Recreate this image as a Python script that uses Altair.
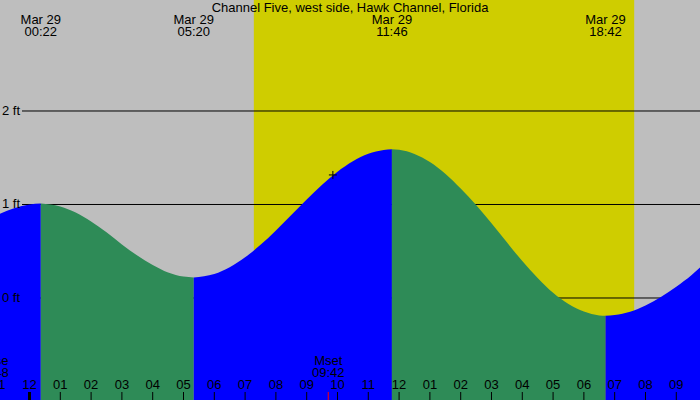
import altair as alt
import pandas as pd

# ---------------- data ----------------
title_text = "Channel Five, west side, Hawk Channel, Florida"
date_label = "Mar 29"
extreme_times = ["00:22", "05:20", "11:46", "18:42"]

# tide height (ft), hours from midnight Mar 29
tide_hours = [-0.958, -0.5, 0.0, 0.367,
              1.0, 1.5, 2.0, 2.5, 3.0, 3.5, 4.0, 4.5, 5.0, 5.333,
              6.0, 6.5, 7.0, 7.5, 8.0, 8.5, 9.0, 9.5, 10.0, 10.5, 11.0, 11.5, 11.767,
              12.0, 12.5, 13.0, 13.5, 14.0, 14.5, 15.0, 15.5, 16.0, 16.5, 17.0, 17.5, 18.0, 18.5, 18.7,
              19.0, 19.5, 20.0, 20.5, 21.0, 21.5, 21.77]
tide_ft = [0.90, 0.96, 1.00, 1.01,
           0.979, 0.913, 0.817, 0.702, 0.572, 0.455, 0.353, 0.273, 0.229, 0.22,
           0.256, 0.328, 0.435, 0.569, 0.723, 0.888, 1.054, 1.211, 1.351, 1.463, 1.542, 1.584, 1.59,
           1.585, 1.541, 1.455, 1.329, 1.171, 0.995, 0.80, 0.595, 0.395, 0.215, 0.055, -0.065, -0.145, -0.186, -0.19,
           -0.183, -0.148, -0.08, 0.01, 0.12, 0.245, 0.325]

hour_ticks = list(range(-1, 22))
hour_labels = ["11", "12", "01", "02", "03", "04", "05", "06", "07", "08", "09", "10", "11",
               "12", "01", "02", "03", "04", "05", "06", "07", "08", "09"]

ft_levels = [0, 1, 2]
ft_labels = ["0 ft", "1 ft", "2 ft"]

sunrise_time = "07:17"
sunset_time = "19:38"

moon_events = ["Mrise", "Mset"]
moon_times = ["22:48", "09:42"]
moon_day_offset = [-1, 0]

now_time = "09:51"
now_ft = 1.316

# ---------------- helpers ----------------
def hrs(s, day=0):
    h, m = s.split(":")
    return int(h) + int(m) / 60.0 + 24 * day

ext_h = [hrs(s) for s in extreme_times]

X0, X1 = -0.958, 21.77
Y0, Y1 = -1.091, 3.187

rows = []
for t, v in zip(tide_hours, tide_ft):
    seg = sum(1 for e in ext_h if e < t - 1e-3)
    rows.append({"t": t, "ft": v, "seg": seg, "base": Y0})
    if any(abs(e - t) < 1e-2 for e in ext_h):
        rows.append({"t": t, "ft": v, "seg": seg + 1, "base": Y0})
tide = pd.DataFrame(rows)
dirs = {}
for s, g in tide.groupby("seg"):
    g = g.sort_values("t")
    dirs[s] = "rise" if g["ft"].iloc[-1] > g["ft"].iloc[0] else "fall"
tide["dir"] = tide["seg"].map(dirs)
tide["seg"] = "s" + tide["seg"].astype(str)

xs = alt.Scale(domain=[X0, X1], nice=False, zero=False)
ys = alt.Scale(domain=[Y0, Y1], nice=False, zero=False)

FONT = "Liberation Sans"
FS = 13

# ---------------- layers ----------------
day = alt.Chart(pd.DataFrame({"a": [hrs(sunrise_time)], "b": [hrs(sunset_time)]})).mark_rect(
    color="#CFCD00").encode(
    x=alt.X("a:Q", scale=xs, axis=None), x2="b:Q",
    y=alt.value(0), y2=alt.value(400))

ft_df = pd.DataFrame({"ft": ft_levels, "lab": ft_labels})
lines = alt.Chart(ft_df).mark_rule(color="black", strokeWidth=1).encode(
    y=alt.Y("ft:Q", scale=ys, axis=None), x=alt.value(22), x2=alt.value(700))

water = alt.Chart(tide).mark_area(interpolate="monotone").encode(
    x=alt.X("t:Q", scale=xs, axis=None),
    y=alt.Y("ft:Q", scale=ys, axis=None),
    y2="base:Q",
    detail="seg:N",
    color=alt.Color("dir:N", scale=alt.Scale(domain=["rise", "fall"], range=["#0000FF", "#2E8B57"]), legend=None))

ft_text = alt.Chart(ft_df).mark_text(align="left", baseline="middle", font=FONT, fontSize=FS, color="black").encode(
    y=alt.Y("ft:Q", scale=ys, axis=None), x=alt.value(2), text="lab:N")

now = alt.Chart(pd.DataFrame({"t": [hrs(now_time)], "ft": [now_ft]})).mark_point(
    shape="M-1,0L1,0M0,-1L0,1", size=64, filled=False, color="black", strokeWidth=1, opacity=1).encode(
    x=alt.X("t:Q", scale=xs, axis=None), y=alt.Y("ft:Q", scale=ys, axis=None))

title = alt.Chart(pd.DataFrame({"s": [title_text]})).mark_text(
    font=FONT, fontSize=FS, baseline="middle", align="center", color="black").encode(
    x=alt.value(350), y=alt.value(8), text="s:N")

ext_df = pd.DataFrame({"t": ext_h, "lab": extreme_times, "d": [date_label] * len(ext_h)})
ext_date = alt.Chart(ext_df).mark_text(font=FONT, fontSize=FS, baseline="middle", color="black").encode(
    x=alt.X("t:Q", scale=xs, axis=None), y=alt.value(20), text="d:N")
ext_time = alt.Chart(ext_df).mark_text(font=FONT, fontSize=FS, baseline="middle", color="black").encode(
    x=alt.X("t:Q", scale=xs, axis=None), y=alt.value(32), text="lab:N")

hr_df = pd.DataFrame({"t": hour_ticks, "lab": hour_labels})
hr_text = alt.Chart(hr_df).mark_text(font=FONT, fontSize=FS, baseline="middle", color="black", clip=True).encode(
    x=alt.X("t:Q", scale=xs, axis=None), y=alt.value(385), text="lab:N")
hr_ticks = alt.Chart(hr_df).mark_rule(color="black", strokeWidth=1).encode(
    x=alt.X("t:Q", scale=xs, axis=None), y=alt.value(392), y2=alt.value(400))
mid_tick = alt.Chart(hr_df).transform_filter("datum.t == 0").mark_rule(color="black", strokeWidth=3).encode(
    x=alt.X("t:Q", scale=xs, axis=None), y=alt.value(392), y2=alt.value(400))

moon_df = pd.DataFrame({"t": [hrs(s, d) for s, d in zip(moon_times, moon_day_offset)],
                        "ev": moon_events, "lab": moon_times})
moon_ev = alt.Chart(moon_df).mark_text(font=FONT, fontSize=FS, baseline="middle", color="black", clip=True).encode(
    x=alt.X("t:Q", scale=xs, axis=None), y=alt.value(361), text="ev:N")
moon_tm = alt.Chart(moon_df).mark_text(font=FONT, fontSize=FS, baseline="middle", color="black", clip=True).encode(
    x=alt.X("t:Q", scale=xs, axis=None), y=alt.value(373), text="lab:N")
moon_tick = alt.Chart(moon_df).transform_filter("datum.t >= 0").mark_rule(color="red", strokeWidth=1).encode(
    x=alt.X("t:Q", scale=xs, axis=None), y=alt.value(392), y2=alt.value(400))

chart = alt.layer(day, lines, water, ft_text, now, title, ext_date, ext_time,
                  hr_text, hr_ticks, mid_tick, moon_ev, moon_tm, moon_tick).properties(
    width=700, height=400, background="#BEBEBE", padding=0,
    autosize=alt.AutoSizeParams(type="none")
).configure_view(strokeWidth=0)

chart.save("out.html", embed_options={"renderer": "svg", "actions": False})
